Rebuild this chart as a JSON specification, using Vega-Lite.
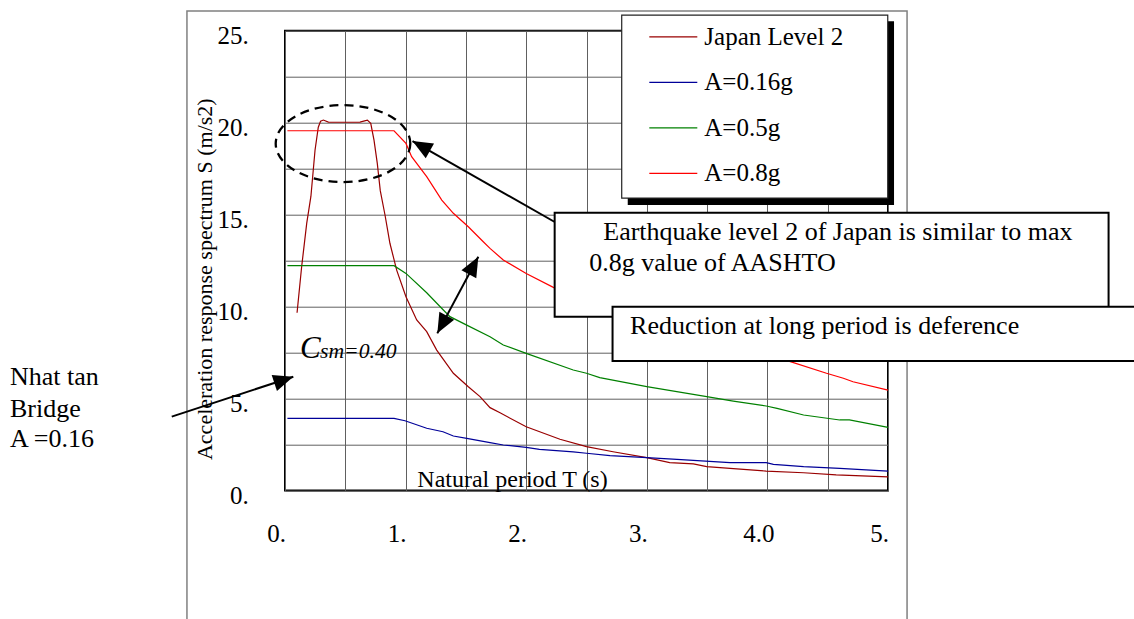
{
  "$schema": "https://vega.github.io/schema/vega-lite/v6.json",
  "width": 603,
  "height": 459.7,
  "autosize": {"type": "none"},
  "padding": {"left": 285, "top": 30.7, "right": 246, "bottom": 128.6},
  "background": "white",
  "config": {
    "font": "Liberation Serif",
    "view": {"stroke": "black", "strokeWidth": 2},
    "axis": {"labelFont": "Liberation Serif", "titleFont": "Liberation Serif", "labelColor": "black", "titleColor": "black", "titleFontWeight": "normal"},
    "text": {"font": "Liberation Serif", "color": "black"}
  },
  "datasets": {
    "curves": [
      {"series": "Japan Level 2", "T": 0.10, "S": 9.66},
      {"series": "Japan Level 2", "T": 0.138, "S": 12.16},
      {"series": "Japan Level 2", "T": 0.18, "S": 14.52},
      {"series": "Japan Level 2", "T": 0.215, "S": 16.0},
      {"series": "Japan Level 2", "T": 0.249, "S": 18.5},
      {"series": "Japan Level 2", "T": 0.276, "S": 19.75},
      {"series": "Japan Level 2", "T": 0.295, "S": 20.08},
      {"series": "Japan Level 2", "T": 0.318, "S": 20.14},
      {"series": "Japan Level 2", "T": 0.36, "S": 20.03},
      {"series": "Japan Level 2", "T": 0.5, "S": 20.02},
      {"series": "Japan Level 2", "T": 0.622, "S": 20.03},
      {"series": "Japan Level 2", "T": 0.66, "S": 20.1},
      {"series": "Japan Level 2", "T": 0.683, "S": 20.14},
      {"series": "Japan Level 2", "T": 0.711, "S": 19.96},
      {"series": "Japan Level 2", "T": 0.738, "S": 19.05},
      {"series": "Japan Level 2", "T": 0.765, "S": 17.8},
      {"series": "Japan Level 2", "T": 0.79, "S": 16.3},
      {"series": "Japan Level 2", "T": 0.83, "S": 14.95},
      {"series": "Japan Level 2", "T": 0.87, "S": 13.44},
      {"series": "Japan Level 2", "T": 0.926, "S": 11.98},
      {"series": "Japan Level 2", "T": 1.003, "S": 10.53},
      {"series": "Japan Level 2", "T": 1.092, "S": 9.27},
      {"series": "Japan Level 2", "T": 1.175, "S": 8.63},
      {"series": "Japan Level 2", "T": 1.258, "S": 7.63},
      {"series": "Japan Level 2", "T": 1.396, "S": 6.37},
      {"series": "Japan Level 2", "T": 1.52, "S": 5.64},
      {"series": "Japan Level 2", "T": 1.617, "S": 5.1},
      {"series": "Japan Level 2", "T": 1.7, "S": 4.5},
      {"series": "Japan Level 2", "T": 1.783, "S": 4.22},
      {"series": "Japan Level 2", "T": 2.0, "S": 3.46},
      {"series": "Japan Level 2", "T": 2.28, "S": 2.78},
      {"series": "Japan Level 2", "T": 2.5, "S": 2.38},
      {"series": "Japan Level 2", "T": 2.72, "S": 2.1},
      {"series": "Japan Level 2", "T": 3.0, "S": 1.78},
      {"series": "Japan Level 2", "T": 3.19, "S": 1.51},
      {"series": "Japan Level 2", "T": 3.386, "S": 1.44},
      {"series": "Japan Level 2", "T": 3.497, "S": 1.29},
      {"series": "Japan Level 2", "T": 3.69, "S": 1.2},
      {"series": "Japan Level 2", "T": 3.99, "S": 1.05},
      {"series": "Japan Level 2", "T": 4.3, "S": 0.96},
      {"series": "Japan Level 2", "T": 4.57, "S": 0.84},
      {"series": "Japan Level 2", "T": 5.0, "S": 0.74},
      {"series": "A=0.16g", "T": 0.02, "S": 3.92},
      {"series": "A=0.16g", "T": 0.904, "S": 3.92},
      {"series": "A=0.16g", "T": 0.995, "S": 3.79},
      {"series": "A=0.16g", "T": 1.175, "S": 3.38},
      {"series": "A=0.16g", "T": 1.31, "S": 3.19},
      {"series": "A=0.16g", "T": 1.396, "S": 2.96},
      {"series": "A=0.16g", "T": 1.507, "S": 2.83},
      {"series": "A=0.16g", "T": 1.7, "S": 2.6},
      {"series": "A=0.16g", "T": 1.81, "S": 2.47},
      {"series": "A=0.16g", "T": 2.0, "S": 2.34},
      {"series": "A=0.16g", "T": 2.11, "S": 2.23},
      {"series": "A=0.16g", "T": 2.39, "S": 2.1},
      {"series": "A=0.16g", "T": 2.5, "S": 2.02},
      {"series": "A=0.16g", "T": 2.695, "S": 1.89},
      {"series": "A=0.16g", "T": 3.0, "S": 1.78},
      {"series": "A=0.16g", "T": 3.25, "S": 1.69},
      {"series": "A=0.16g", "T": 3.69, "S": 1.51},
      {"series": "A=0.16g", "T": 3.99, "S": 1.51},
      {"series": "A=0.16g", "T": 4.05, "S": 1.42},
      {"series": "A=0.16g", "T": 4.3, "S": 1.29},
      {"series": "A=0.16g", "T": 4.6, "S": 1.2},
      {"series": "A=0.16g", "T": 5.0, "S": 1.05},
      {"series": "A=0.5g", "T": 0.02, "S": 12.22},
      {"series": "A=0.5g", "T": 0.904, "S": 12.22},
      {"series": "A=0.5g", "T": 1.003, "S": 11.8},
      {"series": "A=0.5g", "T": 1.175, "S": 10.75},
      {"series": "A=0.5g", "T": 1.313, "S": 9.81},
      {"series": "A=0.5g", "T": 1.368, "S": 9.45},
      {"series": "A=0.5g", "T": 1.507, "S": 8.99},
      {"series": "A=0.5g", "T": 1.7, "S": 8.36},
      {"series": "A=0.5g", "T": 1.81, "S": 7.91},
      {"series": "A=0.5g", "T": 2.0, "S": 7.45},
      {"series": "A=0.5g", "T": 2.39, "S": 6.55},
      {"series": "A=0.5g", "T": 2.5, "S": 6.37},
      {"series": "A=0.5g", "T": 2.61, "S": 6.13},
      {"series": "A=0.5g", "T": 3.0, "S": 5.64},
      {"series": "A=0.5g", "T": 3.497, "S": 5.1},
      {"series": "A=0.5g", "T": 3.717, "S": 4.86},
      {"series": "A=0.5g", "T": 3.99, "S": 4.59},
      {"series": "A=0.5g", "T": 4.08, "S": 4.46},
      {"series": "A=0.5g", "T": 4.3, "S": 4.1},
      {"series": "A=0.5g", "T": 4.6, "S": 3.83},
      {"series": "A=0.5g", "T": 4.68, "S": 3.83},
      {"series": "A=0.5g", "T": 5.0, "S": 3.43},
      {"series": "A=0.8g", "T": 0.02, "S": 19.56},
      {"series": "A=0.8g", "T": 0.904, "S": 19.56},
      {"series": "A=0.8g", "T": 1.003, "S": 18.87},
      {"series": "A=0.8g", "T": 1.05, "S": 18.15},
      {"series": "A=0.8g", "T": 1.175, "S": 17.06},
      {"series": "A=0.8g", "T": 1.3, "S": 15.79},
      {"series": "A=0.8g", "T": 1.396, "S": 15.07},
      {"series": "A=0.8g", "T": 1.52, "S": 14.34},
      {"series": "A=0.8g", "T": 1.644, "S": 13.52},
      {"series": "A=0.8g", "T": 1.7, "S": 13.16},
      {"series": "A=0.8g", "T": 1.81, "S": 12.53},
      {"series": "A=0.8g", "T": 2.0, "S": 11.8},
      {"series": "A=0.8g", "T": 2.225, "S": 11.04},
      {"series": "A=0.8g", "T": 2.5, "S": 10.2},
      {"series": "A=0.8g", "T": 3.0, "S": 9.1},
      {"series": "A=0.8g", "T": 3.5, "S": 8.2},
      {"series": "A=0.8g", "T": 4.0, "S": 7.4},
      {"series": "A=0.8g", "T": 4.19, "S": 7.0},
      {"series": "A=0.8g", "T": 4.49, "S": 6.37},
      {"series": "A=0.8g", "T": 4.63, "S": 6.1},
      {"series": "A=0.8g", "T": 4.71, "S": 5.91},
      {"series": "A=0.8g", "T": 5.0, "S": 5.45}
    ]
  },
  "layer": [
    {
      "data": {"values": [{"T": -0.813, "S": 26.07, "T2": 5.158, "S2": -8.13}]},
      "mark": {"type": "rect", "filled": false, "stroke": "#808080", "strokeWidth": 1.5},
      "encoding": {
        "x": {"field": "T", "type": "quantitative"},
        "x2": {"field": "T2"},
        "y": {"field": "S", "type": "quantitative"},
        "y2": {"field": "S2"}
      }
    },
    {
      "data": {"name": "curves"},
      "mark": {"type": "line", "strokeWidth": 1.2},
      "encoding": {
        "x": {
          "field": "T", "type": "quantitative",
          "scale": {"domain": [0, 5], "nice": false, "zero": false},
          "axis": {
            "values": [0, 0.5, 1, 1.5, 2, 2.5, 3, 3.5, 4, 4.5, 5],
            "grid": true, "gridColor": "#606060", "gridOpacity": 1, "gridWidth": 1,
            "domain": false, "ticks": false,
            "labelExpr": "datum.value % 1 == 0 ? (datum.value == 4 ? '4.0' : datum.value + '.') : ''",
            "labelFontSize": 25, "labelPadding": 31, "labelOffset": -9,
            "labelFlush": false, "labelOverlap": false, "labelBound": false,
            "title": "Natural period T (s)", "titleFontSize": 24,
            "titleX": 227, "titleY": -4.4, "titleAlign": "center", "titleBaseline": "alphabetic"
          }
        },
        "y": {
          "field": "S", "type": "quantitative",
          "scale": {"domain": [0, 25], "nice": false},
          "axis": {
            "values": [0, 2.5, 5, 7.5, 10, 12.5, 15, 17.5, 20, 22.5, 25],
            "grid": true, "gridColor": "#606060", "gridOpacity": 1, "gridWidth": 1,
            "domain": false, "ticks": false,
            "labelExpr": "datum.value % 5 == 0 ? datum.value + '.' : ''",
            "labelFontSize": 25, "labelPadding": 36.7, "labelOffset": 5,
            "labelFlush": false, "labelOverlap": false, "labelBound": false,
            "title": "Acceleration response spectrum S (m/s2)", "titleFontSize": 22,
            "titleX": -81, "titleY": 248, "titleAngle": 270, "titleAlign": "center", "titleBaseline": "middle"
          }
        },
        "color": {
          "field": "series", "type": "nominal",
          "scale": {"domain": ["Japan Level 2", "A=0.16g", "A=0.5g", "A=0.8g"], "range": ["#990000", "#000099", "#008000", "#ff0000"]},
          "legend": {
            "orient": "none", "legendX": 363.3, "legendY": -18.8, "title": null,
            "symbolType": "stroke", "symbolSize": 2304, "symbolStrokeWidth": 1.2,
            "labelFont": "Liberation Serif", "labelFontSize": 25, "labelColor": "black",
            "labelOffset": 6, "rowPadding": 7.5, "padding": 0, "labelLimit": 0
          }
        }
      }
    },
    {
      "data": {"values": [{"T": 0.481, "S": 18.86}]},
      "mark": {"type": "point", "shape": "M1,0C1,0.316 0.552,0.572 0,0.572C-0.552,0.572 -1,0.316 -1,0C-1,-0.316 -0.552,-0.572 0,-0.572C0.552,-0.572 1,-0.316 1,0Z", "filled": false, "stroke": "black", "strokeWidth": 2.3, "strokeDash": [9, 6], "size": 18117, "opacity": 1},
      "encoding": {"x": {"field": "T", "type": "quantitative"}, "y": {"field": "S", "type": "quantitative"}}
    },
    {
      "data": {"values": [
        {"T": 2.233, "S": 14.61, "T2": 1.057, "S2": 19.0},
        {"T": 1.603, "S": 12.71, "T2": 1.263, "S2": 8.54},
        {"T": -0.939, "S": 4.01, "T2": 0.069, "S2": 6.18}
      ]},
      "mark": {"type": "rule", "color": "black", "strokeWidth": 2},
      "encoding": {
        "x": {"field": "T", "type": "quantitative"},
        "x2": {"field": "T2"},
        "y": {"field": "S", "type": "quantitative"},
        "y2": {"field": "S2"}
      }
    },
    {
      "data": {"values": [{"T": 1.057, "S": 19.0}]},
      "mark": {"type": "point", "shape": "M0,0L0.42,1L-0.42,1Z", "filled": true, "color": "black", "strokeWidth": 0, "size": 1600, "angle": 299.6, "opacity": 1},
      "encoding": {"x": {"field": "T", "type": "quantitative"}, "y": {"field": "S", "type": "quantitative"}}
    },
    {
      "data": {"values": [{"T": 1.603, "S": 12.71}]},
      "mark": {"type": "point", "shape": "M0,0L0.42,1L-0.42,1Z", "filled": true, "color": "black", "strokeWidth": 0, "size": 1600, "angle": 28.2, "opacity": 1},
      "encoding": {"x": {"field": "T", "type": "quantitative"}, "y": {"field": "S", "type": "quantitative"}}
    },
    {
      "data": {"values": [{"T": 1.263, "S": 8.54}]},
      "mark": {"type": "point", "shape": "M0,0L0.42,1L-0.42,1Z", "filled": true, "color": "black", "strokeWidth": 0, "size": 1600, "angle": 208.2, "opacity": 1},
      "encoding": {"x": {"field": "T", "type": "quantitative"}, "y": {"field": "S", "type": "quantitative"}}
    },
    {
      "data": {"values": [{"T": 0.069, "S": 6.18}]},
      "mark": {"type": "point", "shape": "M0,0L0.42,1L-0.42,1Z", "filled": true, "color": "black", "strokeWidth": 0, "size": 1600, "angle": 71.8, "opacity": 1},
      "encoding": {"x": {"field": "T", "type": "quantitative"}, "y": {"field": "S", "type": "quantitative"}}
    },
    {
      "data": {"values": [
        {"box": "shadow", "T": 2.842, "S": 25.52, "T2": 5.05, "S2": 15.52}
      ]},
      "mark": {"type": "rect", "color": "black"},
      "encoding": {
        "x": {"field": "T", "type": "quantitative"},
        "x2": {"field": "T2"},
        "y": {"field": "S", "type": "quantitative"},
        "y2": {"field": "S2"}
      }
    },
    {
      "data": {"values": [
        {"box": "legend", "T": 2.792, "S": 25.85, "T2": 4.998, "S2": 15.9}
      ]},
      "mark": {"type": "rect", "fill": "white", "stroke": "#222222", "strokeWidth": 1.2},
      "encoding": {
        "x": {"field": "T", "type": "quantitative"},
        "x2": {"field": "T2"},
        "y": {"field": "S", "type": "quantitative"},
        "y2": {"field": "S2"}
      }
    },
    {
      "data": {"values": [
        {"box": "similar", "T": 2.236, "S": 15.1, "T2": 6.829, "S2": 9.445},
        {"box": "reduction", "T": 2.716, "S": 9.99, "T2": 7.6, "S2": 7.04}
      ]},
      "mark": {"type": "rect", "fill": "white", "stroke": "black", "strokeWidth": 2},
      "encoding": {
        "x": {"field": "T", "type": "quantitative"},
        "x2": {"field": "T2"},
        "y": {"field": "S", "type": "quantitative"},
        "y2": {"field": "S2"}
      }
    },
    {
      "data": {"values": [
        {"T": 2.639, "S": 13.62, "label": "Earthquake level 2 of Japan is similar to max"},
        {"T": 2.523, "S": 11.93, "label": "0.8g value of AASHTO"},
        {"T": 2.861, "S": 8.5, "label": "Reduction at long period is deference"},
        {"T": -2.28, "S": 5.73, "label": "Nhat tan"},
        {"T": -2.28, "S": 4.0, "label": "Bridge"},
        {"T": -2.28, "S": 2.35, "label": "A =0.16"}
      ]},
      "mark": {"type": "text", "align": "left", "baseline": "alphabetic", "fontSize": 26, "font": "Liberation Serif", "color": "black"},
      "encoding": {
        "x": {"field": "T", "type": "quantitative"},
        "y": {"field": "S", "type": "quantitative"},
        "text": {"field": "label"}
      }
    },
    {
      "data": {"values": [{"T": 0.124, "S": 7.18, "label": "C"}]},
      "mark": {"type": "text", "align": "left", "baseline": "alphabetic", "fontSize": 31, "fontStyle": "italic", "font": "Liberation Serif", "color": "black"},
      "encoding": {
        "x": {"field": "T", "type": "quantitative"},
        "y": {"field": "S", "type": "quantitative"},
        "text": {"field": "label"}
      }
    },
    {
      "data": {"values": [{"T": 0.29, "S": 7.18, "label": "sm=0.40"}]},
      "mark": {"type": "text", "align": "left", "baseline": "alphabetic", "fontSize": 21.7, "fontStyle": "italic", "font": "Liberation Serif", "color": "black"},
      "encoding": {
        "x": {"field": "T", "type": "quantitative"},
        "y": {"field": "S", "type": "quantitative"},
        "text": {"field": "label"}
      }
    }
  ]
}
